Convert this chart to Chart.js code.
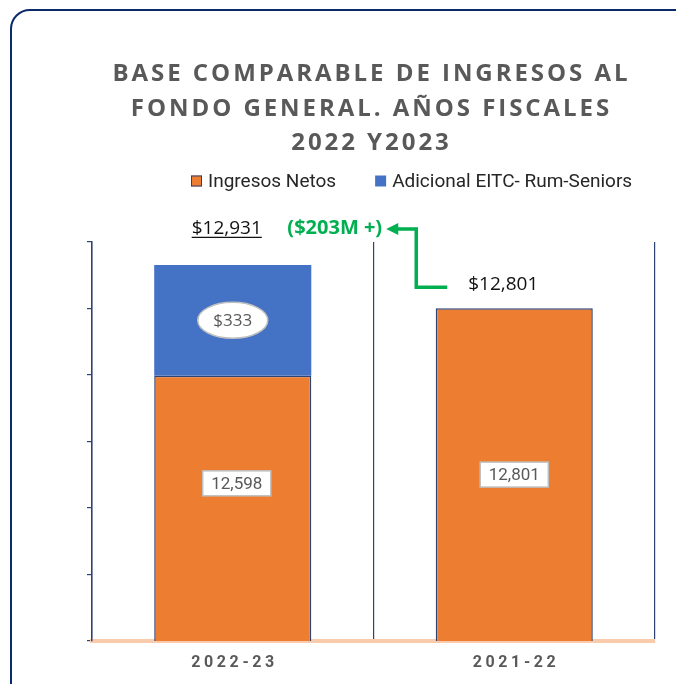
<!DOCTYPE html>
<html><head><meta charset="utf-8">
<script src="https://cdn.jsdelivr.net/npm/chart.js@4.4.0/dist/chart.umd.min.js"></script>
<style>
html,body{margin:0;padding:0;background:#fff;overflow:hidden;width:676px;height:684px;}
#frame{position:absolute;left:10px;top:9px;width:690px;height:700px;border:2.5px solid #0B2A6B;border-radius:20px;box-sizing:border-box;}
#wrap{position:absolute;left:0;top:0;width:676px;height:684px;}
</style></head><body>
<div id="frame"></div>
<div id="wrap"><canvas id="c" width="676" height="684"></canvas></div>
<script>
const categories = ['2022-23', '2021-22'];
const seriesNames = ['Ingresos Netos', 'Adicional EITC- Rum-Seniors'];
const ingresosNetos = [12598, 12801];
const adicional = [333, 0];
const titleLines = ['BASE COMPARABLE DE INGRESOS AL', 'FONDO GENERAL. AÑOS FISCALES', '2022 Y2023'];
const yMin = 11800, yMax = 13000, yStep = 200;
const diffLabel = '($203M +)';

const COLORS = {orange:'#ED7D31', blue:'#4472C4', navy:'#2E4374', gray:'#595959', green:'#00B050', salmon:'#F8CBAD'};
const fmt = n => n.toLocaleString('en-US');

function spacedText(ctx, text, x, y, spacing) {
  ctx.letterSpacing = spacing + 'px';
  ctx.fillText(text, x + spacing / 2, y);
  ctx.letterSpacing = '0px';
}

const overlay = {
  id: 'overlay',
  afterDraw(chart) {
    const ctx = chart.ctx;
    const area = chart.chartArea;
    const m0 = chart.getDatasetMeta(0), m1 = chart.getDatasetMeta(1);
    ctx.save();
    // Title
    ctx.fillStyle = COLORS.gray;
    ctx.font = 'bold 24px "Open Sans"';
    ctx.textAlign = 'center';
    ctx.textBaseline = 'alphabetic';
    titleLines.forEach((t, i) => spacedText(ctx, t, 370, 81 + i * 34.5, 2.95));

    // Legend
    ctx.font = '19px Roboto';
    ctx.textAlign = 'left';
    ctx.textBaseline = 'middle';
    let lx = 191;
    const ly = 181;
    chart.data.datasets.forEach((ds, i) => {
      ctx.fillStyle = ds.backgroundColor;
      ctx.fillRect(lx, ly - 5.5, 11, 11);
      if (i === 0) { ctx.strokeStyle = COLORS.navy; ctx.lineWidth = 1; ctx.strokeRect(lx + 0.5, ly - 5, 10, 10); }
      ctx.fillStyle = '#262626';
      ctx.fillText(ds.label, lx + 17, ly + 1);
      lx += 17 + ctx.measureText(ds.label).width + 39;
    });

    // Category labels
    ctx.fillStyle = COLORS.gray;
    ctx.font = 'bold 16px Roboto';
    ctx.textAlign = 'center';
    ctx.textBaseline = 'middle';
    categories.forEach((c, i) => spacedText(ctx, c, m0.data[i].x, 663, 3.6));

    // Data labels for Ingresos Netos
    ctx.font = '17px Roboto';
    m0.data.forEach((el, i) => {
      const t = fmt(ingresosNetos[i]);
      const base = Math.min(el.base, area.bottom);
      const mid = (el.y + base) / 2;
      const cy = i === 0 ? mid - 25 : mid;
      const cx = i === 0 ? el.x + 4 : el.x;
      const w = ctx.measureText(t).width + 17, h = 25;
      ctx.fillStyle = '#fff';
      ctx.fillRect(cx - w / 2, cy - h / 2, w, h);
      ctx.strokeStyle = '#BFBFBF'; ctx.lineWidth = 1.5;
      ctx.strokeRect(cx - w / 2, cy - h / 2, w, h);
      ctx.fillStyle = COLORS.gray;
      ctx.fillText(t, cx, cy + 1);
    });
    // Data label for Adicional
    m1.data.forEach((el, i) => {
      if (!adicional[i]) return;
      const cy = (el.y + el.base) / 2;
      ctx.beginPath();
      ctx.ellipse(el.x, cy, 35, 18, 0, 0, Math.PI * 2);
      ctx.fillStyle = '#fff'; ctx.fill();
      ctx.strokeStyle = '#BFBFBF'; ctx.lineWidth = 1.5; ctx.stroke();
      ctx.fillStyle = COLORS.gray;
      ctx.font = '17px "Open Sans"';
      ctx.fillText('$' + fmt(adicional[i]), el.x, cy + 1);
    });

    // Totals
    const b1 = m0.data[0], b1top = m1.data[0].y, b2 = m0.data[1];
    const total1 = ingresosNetos[0] + adicional[0];
    const total2 = ingresosNetos[1] + adicional[1];
    ctx.textBaseline = 'alphabetic';
    ctx.font = '19px "Open Sans"';
    ctx.fillStyle = '#111';
    const t1 = '$' + fmt(total1);
    const ty = b1top - 31;
    ctx.fillText(t1, b1.x - 6, ty);
    const w1 = ctx.measureText(t1).width;
    ctx.strokeStyle = '#111'; ctx.lineWidth = 1.2;
    ctx.beginPath(); ctx.moveTo(b1.x - 6 - w1 / 2, ty + 3.5); ctx.lineTo(b1.x - 6 + w1 / 2, ty + 3.5); ctx.stroke();

    ctx.fillText('$' + fmt(total2), b2.x - 11, b2.y - 18);

    ctx.font = 'bold 20px "Open Sans"';
    ctx.fillStyle = COLORS.green;
    ctx.fillText(diffLabel, b1.x + 102, ty);

    // Arrow
    const ay = ty - 5;
    ctx.strokeStyle = COLORS.green; ctx.lineWidth = 3.5; ctx.lineJoin = 'miter';
    ctx.beginPath();
    ctx.moveTo(b2.x - 67, b2.y - 21);
    ctx.lineTo(b2.x - 98, b2.y - 21);
    ctx.lineTo(b2.x - 98, ay);
    ctx.lineTo(b2.x - 118, ay);
    ctx.stroke();
    ctx.fillStyle = COLORS.green;
    ctx.beginPath();
    ctx.moveTo(b2.x - 128, ay);
    ctx.lineTo(b2.x - 116, ay - 6);
    ctx.lineTo(b2.x - 116, ay + 6);
    ctx.closePath(); ctx.fill();
    ctx.restore();
  }
};

new Chart(document.getElementById('c'), {
  type: 'bar',
  data: {
    labels: categories,
    datasets: [
      {label: seriesNames[0], data: ingresosNetos, backgroundColor: COLORS.orange,
       borderColor: COLORS.navy, borderWidth: {left: 1.5, right: 1.5, top: 1.5, bottom: 0}, borderSkipped: false,
       barPercentage: 0.558, categoryPercentage: 1},
      {label: seriesNames[1], data: adicional, backgroundColor: COLORS.blue, borderWidth: 0,
       barPercentage: 0.558, categoryPercentage: 1}
    ]
  },
  options: {
    responsive: false,
    animation: false,
    devicePixelRatio: 1,
    layout: {padding: {top: 242, left: 82, right: 21, bottom: 13}},
    plugins: {legend: {display: false}, tooltip: {enabled: false}, title: {display: false}},
    scales: {
      x: {
        stacked: true,
        grid: {offset: true, color: COLORS.navy, lineWidth: 1.2, drawTicks: false},
        border: {color: COLORS.salmon, width: 4},
        ticks: {display: false},
        afterFit(s) { s.height = 30; }
      },
      y: {
        stacked: true,
        min: yMin, max: yMax,
        ticks: {display: false, stepSize: yStep},
        grid: {color: 'rgba(0,0,0,0)', tickColor: COLORS.navy, tickLength: 5, drawTicks: true, lineWidth: 1.2},
        border: {color: COLORS.navy, width: 1.5},
        afterFit(s) { s.width = 10; }
      }
    }
  },
  plugins: [overlay]
});
</script>
</body></html>
